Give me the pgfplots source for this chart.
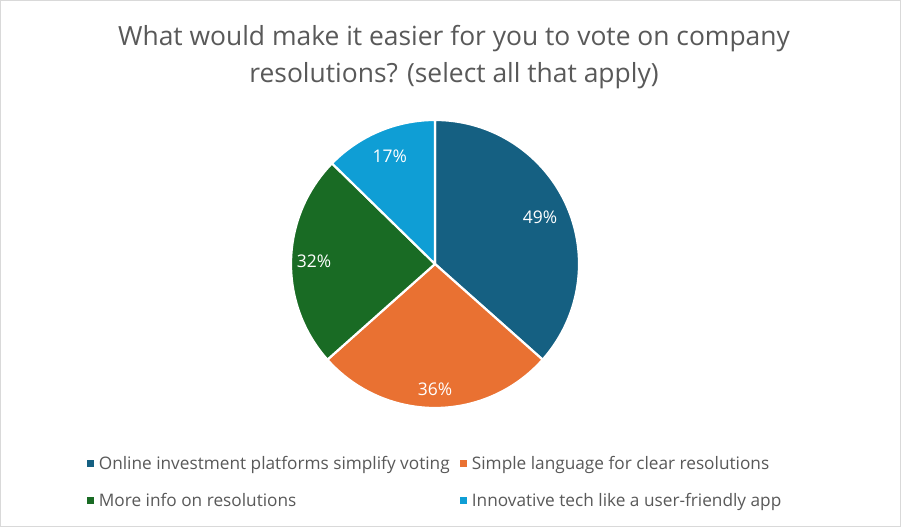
\documentclass[border=0pt]{standalone}
\usepackage{fontspec}
\setmainfont{Open Sans}
\usepackage{pgfplots}
\pgfplotsset{compat=1.18}
\definecolor{cA}{HTML}{156082}
\definecolor{cB}{HTML}{E97132}
\definecolor{cC}{HTML}{196B24}
\definecolor{cD}{HTML}{0F9ED5}
\definecolor{txt}{HTML}{595959}
\pgfplotsset{sqlegend/.style={legend image code/.code={\fill[##1, draw=none] (0bp,-3.6bp) rectangle (7.3bp,3.6bp); \path (10bp,0bp);}}}
% share of respondents (%), colour, label radius
\def\piedata{49/cA/0.80, 36/cB/0.87, 32/cC/0.84, 17/cD/0.81}
\def\pietotal{134}
\begin{document}
\begin{tikzpicture}[x=1bp,y=1bp]
\useasboundingbox (0,0) rectangle (901,527);
\fill[white] (0,0) rectangle (901,527);
\draw[color=black!15, line width=1bp] (0.5,0.5) rectangle (900.5,526.5);
\node[font=\fontsize{26.5}{30}\selectfont, text=txt, anchor=base, inner sep=0pt] at (454,481) {What would make it easier for you to vote on company};
\node[font=\fontsize{26.5}{30}\selectfont, text=txt, anchor=base, inner sep=0pt] at (454,444) {resolutions? (select all that apply)};
\gdef\cum{90}\gdef\slicelist{}
\foreach \v/\col/\lr in \piedata {
  \pgfmathsetmacro\s{\cum}
  \pgfmathsetmacro\e{\cum-\v/\pietotal*360}
  \pgfmathsetmacro\m{(\s+\e)/2}
  \xdef\slicelist{\slicelist\ifx\slicelist\empty\else,\fi\v/\col/\lr/\s/\e/\m}
  \xdef\cum{\e}
}
\begin{axis}[at={(435bp,263bp)}, anchor=center, width=288bp, height=288bp, scale only axis,
  xmin=-1, xmax=1, ymin=-1, ymax=1, hide axis, clip=false,
  legend columns=2, legend cell align=left,
  legend style={at={(0.5,-0.154)}, anchor=north, draw=none, fill=none,
    font=\fontsize{17.3}{19}\selectfont, text=txt, row sep=18bp,
    /tikz/every even column/.append style={column sep=8bp}}]
\addlegendimage{sqlegend, fill=cA}
\addlegendentry{Online investment platforms simplify voting}
\addlegendimage{sqlegend, fill=cB}
\addlegendentry{Simple language for clear resolutions}
\addlegendimage{sqlegend, fill=cC}
\addlegendentry{More info on resolutions}
\addlegendimage{sqlegend, fill=cD}
\addlegendentry{Innovative tech like a user-friendly app}
\foreach \v/\col/\lr/\s/\e/\m in \slicelist {
  \edef\temp{\noexpand\fill[fill=\col, draw=white, line width=2.2bp, line join=round] (axis cs:0,0) -- (axis cs:{cos(\s)},{sin(\s)}) arc[start angle=\s, end angle=\e, radius=144bp] -- cycle;
    \noexpand\node[text=white, font=\noexpand\fontsize{17.5}{19}\noexpand\selectfont] at (axis cs:{\lr*cos(\m)},{\lr*sin(\m)}) {\v\noexpand\%};}
  \temp
}
\end{axis}
\end{tikzpicture}
\end{document}
